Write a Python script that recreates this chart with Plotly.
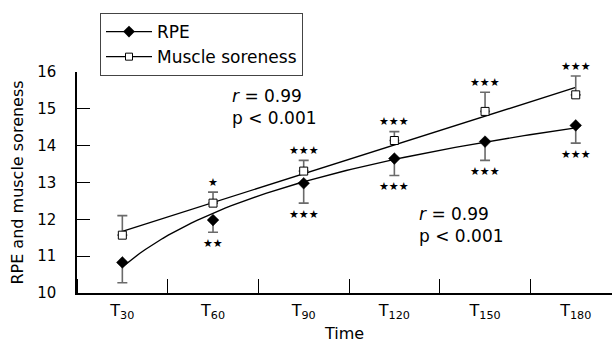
import numpy as np
import plotly.graph_objects as go

# ---- data ----
times = [30, 60, 90, 120, 150, 180]
tick_labels = ["T<sub>30</sub>", "T<sub>60</sub>", "T<sub>90</sub>",
               "T<sub>120</sub>", "T<sub>150</sub>", "T<sub>180</sub>"]
rpe = [10.83, 11.98, 12.98, 13.65, 14.11, 14.55]
rpe_err = [0.55, 0.33, 0.54, 0.46, 0.51, 0.48]          # drawn downward
soreness = [11.57, 12.44, 13.31, 14.14, 14.93, 15.38]
soreness_err = [0.53, 0.30, 0.29, 0.24, 0.52, 0.51]    # drawn upward
rpe_sig = ["", "★★", "★★★", "★★★", "★★★", "★★★"]
sore_sig = ["", "★", "★★★", "★★★", "★★★", "★★★"]

FONT = "DejaVu Sans"

t = np.array(times, dtype=float)
xpos = (t - t[0]) / (t[1] - t[0])

# fitted trend lines (log fit for RPE, linear fit for soreness)
b_r, a_r = np.polyfit(np.log(t), np.array(rpe), 1)
b_s, a_s = np.polyfit(t, np.array(soreness), 1)
tt = np.linspace(t[0], t[-1], 80)
xx = (tt - t[0]) / (t[1] - t[0])
fit_r = a_r + b_r * np.log(tt)
fit_s = a_s + b_s * tt

fig = go.Figure()

fig.add_trace(go.Scatter(x=xx, y=fit_r, mode="lines",
                         line=dict(color="black", width=1.4),
                         showlegend=False, hoverinfo="skip"))
fig.add_trace(go.Scatter(x=xx, y=fit_s, mode="lines",
                         line=dict(color="black", width=1.4),
                         showlegend=False, hoverinfo="skip"))

fig.add_trace(go.Scatter(
    x=xpos, y=rpe, mode="markers", name="RPE",
    marker=dict(symbol="diamond", size=9, color="black",
                line=dict(color="black", width=0.5)),
    error_y=dict(type="data", symmetric=False,
                 array=[0] * len(rpe), arrayminus=rpe_err,
                 color="#6a6a6a", thickness=1.6, width=5),
    showlegend=False))
fig.add_trace(go.Scatter(
    x=xpos, y=soreness, mode="markers", name="Muscle soreness",
    marker=dict(symbol="square", size=8, color="white",
                line=dict(color="black", width=1)),
    error_y=dict(type="data", symmetric=False,
                 array=soreness_err, arrayminus=[0] * len(soreness),
                 color="#6a6a6a", thickness=1.6, width=5),
    showlegend=False))

# legend entries (line + marker)
fig.add_trace(go.Scatter(x=[None], y=[None], mode="lines+markers", name="RPE",
                         marker=dict(symbol="diamond", size=9, color="black"),
                         line=dict(color="black", width=1.2)))
fig.add_trace(go.Scatter(x=[None], y=[None], mode="lines+markers", name="Muscle soreness",
                         marker=dict(symbol="square", size=7, color="white",
                                     line=dict(color="black", width=1)),
                         line=dict(color="black", width=1.2)))

ann = []
for xi, yi, e, s in zip(xpos, soreness, soreness_err, sore_sig):
    if s:
        ann.append(dict(x=xi, y=yi + e, text=s, showarrow=False, yshift=10,
                        font=dict(family=FONT, size=11, color="black")))
for xi, yi, e, s in zip(xpos, rpe, rpe_err, rpe_sig):
    if s:
        ann.append(dict(x=xi, y=yi - e, text=s, showarrow=False, yshift=-11,
                        font=dict(family=FONT, size=11, color="black")))

ann.append(dict(xref="paper", yref="paper", x=0.286, y=0.945, xanchor="left",
                yanchor="top", align="left", showarrow=False,
                text="<i>r</i> = 0.99<br>p &lt; 0.001",
                font=dict(family=FONT, size=17, color="black")))
ann.append(dict(xref="paper", yref="paper", x=0.636, y=0.41, xanchor="left",
                yanchor="top", align="left", showarrow=False,
                text="<i>r</i> = 0.99<br>p &lt; 0.001",
                font=dict(family=FONT, size=17, color="black")))

fig.update_layout(
    width=612, height=345,
    margin=dict(l=77, r=0, t=72, b=52, autoexpand=False),
    paper_bgcolor="white", plot_bgcolor="white",
    font=dict(family=FONT, size=15, color="black"),
    annotations=ann,
    legend=dict(xref="paper", yref="paper", x=(100 - 77) / 535, y=1 + (72 - 13) / 221,
                xanchor="left", yanchor="top",
                bordercolor="#444", borderwidth=1, bgcolor="white",
                font=dict(family=FONT, size=17, color="black"),
                tracegroupgap=0, itemwidth=46),
)

fig.update_xaxes(
    range=[-0.5, 5.4], tickvals=list(xpos), ticktext=tick_labels,
    ticks="", showline=True, linecolor="black", linewidth=1.5,
    showgrid=False, zeroline=False, tickfont=dict(size=16),
    ticklabelstandoff=2, automargin=False,
    minor=dict(tickvals=[v - 0.5 for v in xpos] + [xpos[-1] + 0.5],
               ticks="inside", ticklen=14, tickcolor="black", tickwidth=1, showgrid=False),
    title=dict(text="Time", font=dict(size=16), standoff=6),
)
fig.update_yaxes(
    range=[10, 16], dtick=1, ticks="inside", ticklen=13, tickcolor="black",
    showline=True, linecolor="black", linewidth=1.5,
    showgrid=False, zeroline=False, tickfont=dict(size=15),
    ticklabelstandoff=16, automargin=False,
    title=dict(text="RPE and muscle soreness", font=dict(size=16), standoff=10),
)

fig.write_html("out.html")
